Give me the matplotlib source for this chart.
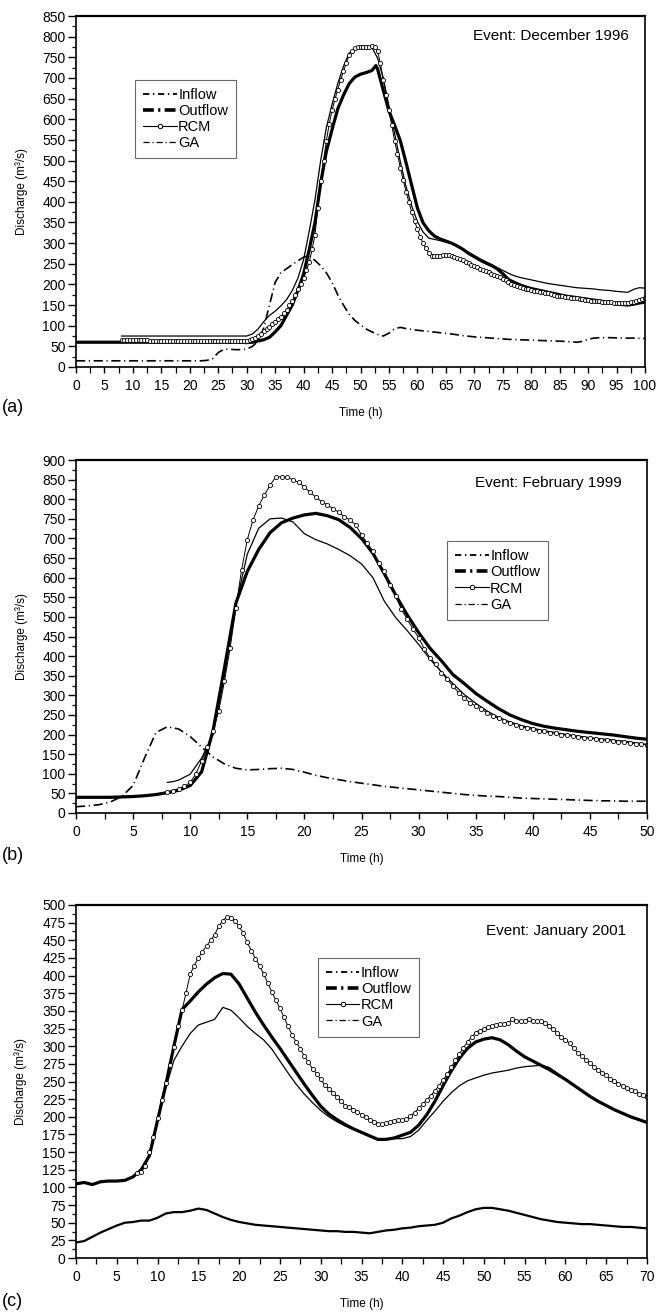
import numpy as np
import matplotlib
matplotlib.use('Agg')
import matplotlib.pyplot as plt
from matplotlib.lines import Line2D
from matplotlib.ticker import MultipleLocator

plt.rcParams['font.family'] = ['Liberation Sans', 'DejaVu Sans']

# ---------------- Panel (a): December 1996 ----------------
a_inflow_t = [0, 5, 10, 15, 20, 22, 23, 24, 25, 26, 27, 28, 29, 30, 31, 32, 33, 34, 35, 36,
              37, 38, 39, 40, 41, 42, 43, 44, 45, 46, 47, 48, 49, 50, 51, 52, 53, 54, 55, 56,
              57, 58, 59, 60, 62, 64, 66, 68, 70, 72, 74, 76, 78, 80, 82, 84, 86, 88, 89, 90,
              91, 92, 94, 96, 98, 100]
a_inflow_q = [15, 15, 15, 15, 15, 15, 16, 20, 35, 43, 43, 42, 42, 43, 50, 62, 95, 150, 205, 228,
              238, 248, 257, 266, 270, 258, 245, 228, 205, 175, 150, 128, 113, 102, 92, 85, 79, 75, 82, 93,
              96, 93, 91, 89, 86, 83, 80, 76, 73, 71, 69, 67, 66, 65, 64, 63, 62, 60, 62, 67,
              70, 71, 71, 70, 70, 69]

a_outflow_t = [0, 10, 20, 29, 30, 31, 32, 33, 34, 35, 36, 37, 38, 39, 40, 41, 42, 43, 44, 45,
               46, 47, 48, 49, 50, 51, 52, 52.7, 53, 54, 55, 56, 57, 58, 59, 60, 61, 62, 63, 64,
               65, 66, 67, 68, 69, 70, 71, 72, 73, 74, 75, 76, 77, 78, 79, 80, 81, 82, 83, 84,
               85, 86, 87, 88, 89, 90, 91, 92, 93, 94, 95, 96, 97, 98, 99, 100]
a_outflow_q = [60, 60, 60, 60, 59, 60, 63, 66, 72, 85, 100, 125, 150, 185, 225, 285, 350, 445, 522, 575,
               625, 658, 686, 702, 709, 713, 718, 730, 722, 670, 620, 585, 548, 495, 440, 385, 349, 330, 317, 310,
               305, 300, 293, 285, 275, 267, 259, 252, 246, 238, 226, 212, 205, 199, 194, 190, 187, 184, 181, 178,
               175, 172, 170, 168, 166, 164, 162, 160, 158, 156, 153, 151, 150, 152, 155, 157]

a_ga_t = np.arange(8, 101, 1)
a_ga_q = [75, 75, 75, 75, 75, 75, 75, 75, 75, 75, 75, 75, 75, 75, 75, 75, 75, 75, 75, 75, 75, 75, 75,
          80, 92, 110, 125, 135, 148, 163, 185, 215, 260,
          330, 405, 500, 580, 636, 686, 728, 760, 772, 777,
          777, 774, 748, 700, 632, 565, 497, 437, 390, 352,
          327, 312, 309, 306, 302, 299, 294, 286, 278, 270,
          262, 255, 248, 241, 234, 227, 221, 217, 214, 211,
          208, 205, 202, 200, 198, 196, 194, 192, 191, 190,
          189, 187, 186, 185, 183, 182, 181, 188, 192, 191]
a_rcm_t = np.arange(8, 100.01, 0.5)
a_rcm_q = [66, 66, 66, 66, 65, 65, 65, 65, 65, 65,
           64, 64, 64, 64, 64, 64, 64, 64, 64, 64,
           64, 64, 64, 64, 64, 64, 64, 64, 64, 64,
           64, 64, 64, 64, 64, 64, 64, 64, 64, 64,
           64, 64, 64, 64, 64, 65, 68, 71, 75, 80,
           86, 92, 98, 104, 110, 116, 122, 130, 138, 149,
           160, 174, 188, 201, 215, 234, 255, 285, 320, 385,
           450, 500, 548, 588, 622, 648, 672, 695, 716, 737,
           755, 765, 772, 775, 776, 775, 774, 775, 777, 775,
           765, 735, 695, 658, 622, 585, 548, 515, 482, 453,
           425, 400, 375, 354, 333, 315, 300, 287, 276, 270,
           268, 268, 269, 271, 272, 271, 269, 267, 265, 262,
           258, 255, 251, 248, 244, 241, 238, 235, 232, 229,
           226, 224, 221, 218, 214, 210, 205, 201, 198, 195,
           193, 191, 190, 188, 187, 185, 184, 182, 181, 179,
           178, 176, 175, 173, 172, 171, 170, 169, 168, 167,
           166, 165, 164, 163, 162, 161, 160, 160, 159, 158,
           158, 157, 157, 156, 156, 156, 156, 156, 156, 157,
           158, 160, 162, 164, 166]

# ---------------- Panel (b): February 1999 ----------------
b_t = np.arange(0, 51, 1)
b_inflow_q = [16, 18, 21, 28, 42, 70, 140, 205, 220, 214,
              195, 168, 143, 125, 114, 110, 111, 113, 114, 111,
              104, 96, 90, 85, 80, 76, 72, 68, 65, 62,
              59, 56, 53, 50, 47, 45, 43, 42, 40, 38,
              37, 36, 35, 34, 33, 32, 31, 31, 30, 30, 30]
b_outflow_q = [40, 40, 40, 40, 41, 42, 44, 47, 52, 58,
               70, 105, 210, 370, 535, 616, 672, 715, 740, 752,
               760, 764, 758, 748, 728, 700, 662, 610, 555, 505,
               460, 420, 388, 353, 330, 305, 285, 266, 250, 238,
               228, 221, 216, 212, 208, 205, 202, 199, 195, 191, 188]
b_ga_t = [8, 8.5, 9, 10, 11, 11.5, 12, 13, 14, 15, 16, 17, 18, 19, 20,
          21, 22, 23, 24, 25, 26, 27, 28, 29, 30, 31, 32, 33, 34, 35, 36, 37, 38, 39, 40,
          41, 42, 43, 44, 45, 46, 47, 48, 49, 50]
b_ga_q = [78, 80, 84, 99, 140, 170, 200, 350, 530, 660, 726, 750, 752, 742, 712,
          697, 686, 672, 656, 635, 600, 540, 498, 465, 430, 392, 360, 330, 302, 280, 260, 244, 232, 223, 216,
          210, 205, 200, 196, 192, 189, 186, 183, 179, 175]
b_rcm_t = np.arange(8, 50.01, 0.5)
b_rcm_q = [53, 57, 62, 68, 78, 100, 133, 167, 209, 260,
           336, 421, 523, 620, 697, 747, 783, 811, 836, 857,
           857, 857, 849, 843, 831, 818, 805, 794, 786, 776,
           767, 755, 747, 734, 709, 688, 667, 637, 616, 582,
           553, 519, 494, 469, 447, 418, 396, 379, 358, 341,
           324, 307, 294, 281, 273, 264, 256, 247, 241, 235,
           230, 225, 220, 216, 213, 210, 208, 205, 203, 200,
           198, 196, 194, 192, 191, 189, 187, 185, 184, 182,
           181, 179, 177, 176, 174]

# ---------------- Panel (c): January 2001 ----------------
c_t = np.arange(0, 71, 1)
c_inflow_q = [22, 24, 30, 36, 41, 46, 50, 51, 53, 53,
              57, 63, 65, 65, 67, 70, 68, 63, 58, 54,
              51, 49, 47, 46, 45, 44, 43, 42, 41, 40,
              39, 38, 38, 37, 37, 36, 35, 37, 39, 40,
              42, 43, 45, 46, 47, 50, 56, 60, 65, 69,
              71, 71, 69, 67, 64, 61, 58, 55, 53, 51,
              50, 49, 48, 48, 47, 46, 45, 44, 44, 43, 42]
c_outflow_q = [105, 107, 104, 108, 109, 109, 110, 115, 125, 145,
               195, 245, 300, 352, 364, 377, 388, 397, 403, 402,
               388, 368, 348, 330, 313, 297, 280, 263, 246, 230,
               215, 204, 196, 189, 183, 178, 173, 168, 168, 170,
               174, 178, 188, 203, 222, 244, 265, 283, 297, 306,
               310, 312, 309, 302, 293, 285, 279, 273, 267, 260,
               253, 245, 237, 229, 222, 216, 210, 205, 200, 196, 192]
c_ga_t = np.arange(8, 71, 1)
c_ga_q = [125, 145,
          195, 240, 280, 300, 318, 330, 334, 338, 355, 351,
          340, 328, 318, 309, 296, 279, 262, 246, 232, 220,
          209, 200, 193, 187, 182, 177, 172, 169, 169, 169,
          169, 172, 181, 195, 208, 222, 234, 244, 251, 255,
          259, 262, 264, 266, 269, 271, 272, 273, 270, 262,
          253, 245, 237, 229, 222, 216, 210, 205, 200, 196, 192]
c_rcm_t = np.arange(7.5, 70.01, 0.5)
c_rcm_q = [120,
           122, 130, 150, 172, 198, 224, 248, 273, 299, 328,
           351, 376, 402, 414, 425, 434, 442, 450, 458, 470,
           478, 483, 482, 477, 470, 460, 447, 435, 424, 414,
           402, 390, 377, 365, 354, 341, 328, 316, 306, 296,
           286, 277, 268, 261, 253, 245, 240, 234, 228, 222,
           216, 214, 210, 207, 203, 200, 196, 193, 190, 190,
           191, 192, 194, 195, 195, 197, 201, 206, 212, 218,
           224, 230, 237, 244, 252, 260, 270, 280, 289, 298,
           306, 313, 319, 322, 325, 327, 329, 330, 332, 331,
           333, 338, 336, 336, 335, 338, 336, 335, 336, 333,
           329, 324, 318, 313, 309, 304, 297, 291, 286, 281,
           276, 271, 266, 262, 259, 254, 251, 247, 244, 241,
           238, 236, 233, 231, 228]

labels = ['Inflow', 'Outflow', 'RCM', 'GA']
events = ['Event: December 1996', 'Event: February 1999', 'Event: January 2001']

# ---------------- Styling ----------------
W, H = 668, 1314
fig = plt.figure(figsize=(W / 100, H / 100), dpi=100)

def ax_rect(left, top, right, bottom):
    return [left / W, 1 - bottom / H, (right - left) / W, (bottom - top) / H]

inflow_dash = (0, (5.5, 2.2, 0.7, 2.2))
leg_handles = [
    Line2D([], [], color='black', lw=1.3, linestyle=(0, (3.5, 2.0, 0.8, 2.0))),
    Line2D([], [], color='black', lw=2.6, linestyle=(0, (3.0, 1.2, 0.6, 1.2))),
    Line2D([], [], color='black', lw=0.8, marker='o', ms=3.2, mfc='white', mec='black', mew=0.7),
    Line2D([], [], color='black', lw=0.9, linestyle=(0, (5.0, 2.2, 1.0, 2.2))),
]

def style_axis(ax, xmax, ymax, ymajor, event, evx, evy, legxy):
    ax.set_xlim(0, xmax)
    ax.set_ylim(0, ymax)
    ax.xaxis.set_major_locator(MultipleLocator(5))
    ax.xaxis.set_minor_locator(MultipleLocator(2.5))
    ax.yaxis.set_major_locator(MultipleLocator(ymajor))
    ax.yaxis.set_minor_locator(MultipleLocator(ymajor / 2))
    ax.tick_params(axis='y', which='major', direction='out', length=5.5, width=1.0,
                   labelsize=10, pad=2)
    ax.tick_params(axis='y', which='minor', direction='out', length=3, width=0.9)
    ax.tick_params(axis='x', which='major', direction='out', length=4.5, width=1.0,
                   labelsize=10, pad=4)
    ax.tick_params(axis='x', which='minor', direction='out', length=4.0, width=0.9)
    for s in ax.spines.values():
        s.set_linewidth(1.2)
    ax.spines['top'].set_linewidth(1.6)
    ax.set_ylabel('Discharge (m³/s)', fontsize=8.5, labelpad=10.5)
    ax.set_xlabel('Time (h)', fontsize=8.5, labelpad=10)
    ax.text(evx, evy, event, transform=ax.transAxes, ha='right', va='center', fontsize=11)
    leg = ax.legend(leg_handles, labels, loc='upper left', bbox_to_anchor=legxy,
                    borderaxespad=0, fontsize=10.5, frameon=True, fancybox=False,
                    handlelength=2.3, handletextpad=0.1, labelspacing=0.15,
                    borderpad=0.55, numpoints=1)
    leg.get_frame().set_edgecolor('#444444')
    leg.get_frame().set_linewidth(0.8)

# Panel (a)
axa = fig.add_axes(ax_rect(76, 16, 645, 367))
axa.plot(a_inflow_t, a_inflow_q, color='black', lw=1.2, linestyle=inflow_dash)
axa.plot(a_outflow_t, a_outflow_q, color='black', lw=2.3)
axa.plot(a_ga_t, a_ga_q, color='black', lw=0.9)
axa.plot(a_rcm_t, a_rcm_q, color='black', lw=0.7, marker='o', ms=3.0,
         mfc='white', mec='black', mew=0.6)
style_axis(axa, 100, 850, 50, events[0], 0.972, 0.943, (0.104, 0.818))

# Panel (b)
axb = fig.add_axes(ax_rect(76, 460, 647, 813))
axb.plot(b_t, b_inflow_q, color='black', lw=1.2, linestyle=inflow_dash)
axb.plot(b_t, b_outflow_q, color='black', lw=2.3)
axb.plot(b_ga_t, b_ga_q, color='black', lw=0.9)
axb.plot(b_rcm_t, b_rcm_q, color='black', lw=0.7, marker='o', ms=3.0,
         mfc='white', mec='black', mew=0.6)
style_axis(axb, 50, 900, 50, events[1], 0.956, 0.935, (0.650, 0.770))

# Panel (c)
axc = fig.add_axes(ax_rect(76, 905, 647, 1258))
axc.plot(c_t, c_inflow_q, color='black', lw=1.6)
axc.plot(c_t, c_outflow_q, color='black', lw=2.3)
axc.plot(c_ga_t, c_ga_q, color='black', lw=0.9)
axc.plot(c_rcm_t, c_rcm_q, color='black', lw=0.7, marker='o', ms=3.0,
         mfc='white', mec='black', mew=0.6)
style_axis(axc, 70, 500, 25, events[2], 0.963, 0.926, (0.4236, 0.850))

for lab, yc in zip(['(a)', '(b)', '(c)'], [408, 855, 1302]):
    fig.text(2 / W, 1 - yc / H, lab, fontsize=13, ha='left', va='center')

fig.savefig('out.png', dpi=100)
